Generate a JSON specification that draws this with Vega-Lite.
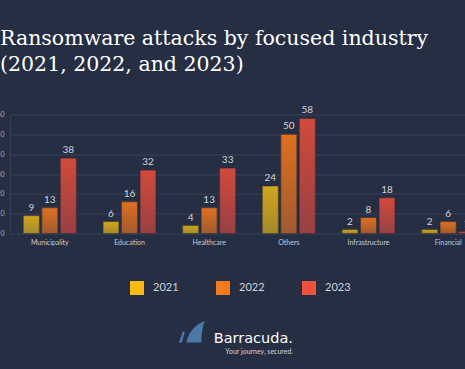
{
  "$schema": "https://vega.github.io/schema/vega-lite/v6.json",
  "autosize": "none",
  "width": 478,
  "height": 119,
  "padding": {"left": 10, "top": 114.5, "right": 0, "bottom": 135.5},
  "background": "#252e43",
  "title": {
    "text": ["Ransomware attacks by focused industry", "(2021, 2022, and 2023)"],
    "anchor": "start",
    "frame": "group",
    "dx": -10,
    "offset": 30,
    "font": "DejaVu Serif",
    "fontSize": 20.5,
    "fontWeight": "normal",
    "color": "#ffffff",
    "lineHeight": 26
  },
  "data": {
    "values": [
      {"industry": "Municipality", "year": "2021", "value": 9},
      {"industry": "Municipality", "year": "2022", "value": 13},
      {"industry": "Municipality", "year": "2023", "value": 38},
      {"industry": "Education", "year": "2021", "value": 6},
      {"industry": "Education", "year": "2022", "value": 16},
      {"industry": "Education", "year": "2023", "value": 32},
      {"industry": "Healthcare", "year": "2021", "value": 4},
      {"industry": "Healthcare", "year": "2022", "value": 13},
      {"industry": "Healthcare", "year": "2023", "value": 33},
      {"industry": "Others", "year": "2021", "value": 24},
      {"industry": "Others", "year": "2022", "value": 50},
      {"industry": "Others", "year": "2023", "value": 58},
      {"industry": "Infrastructure", "year": "2021", "value": 2},
      {"industry": "Infrastructure", "year": "2022", "value": 8},
      {"industry": "Infrastructure", "year": "2023", "value": 18},
      {"industry": "Financial", "year": "2021", "value": 2},
      {"industry": "Financial", "year": "2022", "value": 6},
      {"industry": "Financial", "year": "2023", "value": 1}
    ]
  },
  "encoding": {
    "x": {
      "field": "industry",
      "type": "nominal",
      "sort": null,
      "scale": {"paddingInner": 0.335, "paddingOuter": 0.1675},
      "axis": {
        "title": null,
        "labelAngle": 0,
        "labelFontSize": 7,
        "labelFont": "Lato",
        "labelColor": "#c8ccd4",
        "ticks": false,
        "domain": false,
        "labelPadding": 5
      }
    },
    "xOffset": {
      "field": "year",
      "type": "nominal",
      "scale": {"domain": ["2021", "2022", "2023"], "paddingInner": 0.135, "paddingOuter": 0}
    },
    "y": {
      "field": "value",
      "type": "quantitative",
      "scale": {"domain": [0, 60], "nice": false},
      "axis": {
        "title": null,
        "values": [0, 10, 20, 30, 40, 50, 60],
        "grid": true,
        "gridColor": "#37415a",
        "gridWidth": 1,
        "domain": true,
        "domainColor": "#37415a",
        "ticks": false,
        "labelFontSize": 7,
        "labelFont": "Lato",
        "labelColor": "#aab0bc",
        "labelPadding": 6
      }
    }
  },
  "layer": [
    {
      "mark": {"type": "bar"},
      "encoding": {
        "color": {
          "field": "year",
          "type": "nominal",
          "scale": {"domain": ["2021", "2022", "2023"], "range": ["#fbb914", "#f57a1d", "#f0533c"]},
          "legend": {
            "title": null,
            "orient": "none",
            "legendX": 120,
            "legendY": 166.5,
            "direction": "horizontal",
            "symbolType": "square",
            "symbolSize": 196,
            "symbolStrokeWidth": 0,
            "symbolOpacity": 1,
            "labelFont": "Lato",
            "labelFontSize": 11,
            "labelColor": "#d0d4dc",
            "labelOffset": 9,
            "columnPadding": 37,
            "padding": 0
          }
        }
      }
    },
    {
      "transform": [{"filter": "datum.year === '2021'"}],
      "mark": {
        "type": "bar",
        "stroke": "#1f2638",
        "strokeWidth": 0.6,
        "color": {
          "gradient": "linear", "x1": 0, "y1": 0, "x2": 0, "y2": 1,
          "stops": [{"offset": 0, "color": "#d2a51c"}, {"offset": 1, "color": "#a38a2c"}]
        }
      }
    },
    {
      "transform": [{"filter": "datum.year === '2022'"}],
      "mark": {
        "type": "bar",
        "stroke": "#1f2638",
        "strokeWidth": 0.6,
        "color": {
          "gradient": "linear", "x1": 0, "y1": 0, "x2": 0, "y2": 1,
          "stops": [{"offset": 0, "color": "#de7020"}, {"offset": 1, "color": "#a05a30"}]
        }
      }
    },
    {
      "transform": [{"filter": "datum.year === '2023'"}],
      "mark": {
        "type": "bar",
        "stroke": "#1f2638",
        "strokeWidth": 0.6,
        "color": {
          "gradient": "linear", "x1": 0, "y1": 0, "x2": 0, "y2": 1,
          "stops": [{"offset": 0, "color": "#d24a3a"}, {"offset": 1, "color": "#984044"}]
        }
      }
    },
    {
      "mark": {"type": "text", "baseline": "bottom", "dy": -3, "font": "Lato", "fontSize": 10, "color": "#d0d4dc"},
      "encoding": {"text": {"field": "value", "type": "quantitative"}}
    },
    {
      "mark": {"type": "point", "opacity": 0, "filled": true},
      "encoding": {
        "shape": {
          "datum": "Barracuda.",
          "scale": {"range": ["M-1.035,0.25 L-0.75,-0.53 L-0.61,-0.46 L-0.82,0.25 Z M-0.505,0.25 Q-0.29,-0.81 0.8,-1.28 Q0.555,-0.6 0.555,0.25 Z"]},
          "legend": {
            "title": "Your journey, secured.",
            "titleOrient": "bottom",
            "titleAnchor": "end",
            "titleFont": "Lato",
            "titleFontSize": 7,
            "titleFontWeight": "normal",
            "titleColor": "#d0d4dc",
            "titlePadding": 3,
            "orient": "none",
            "legendX": 169,
            "legendY": 209.85,
            "symbolSize": 800,
            "symbolFillColor": "#1b90dc",
            "symbolStrokeWidth": 0,
            "symbolOpacity": 1,
            "labelFont": "DejaVu Sans",
            "labelFontSize": 14.5,
            "labelColor": "#ffffff",
            "labelOffset": 5.7,
            "padding": 0
          }
        }
      }
    }
  ],
  "config": {
    "view": {"stroke": null}
  }
}
